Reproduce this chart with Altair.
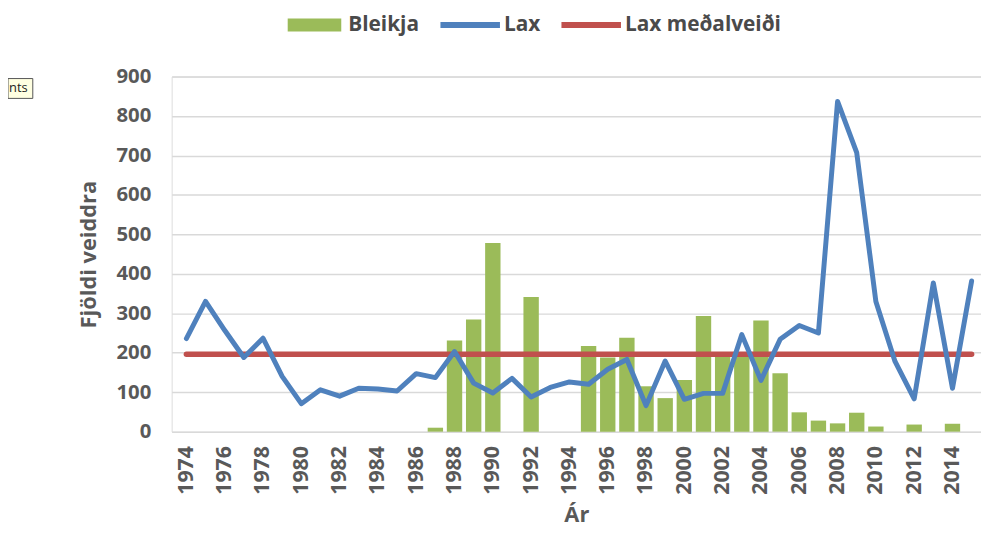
import altair as alt
import pandas as pd

years = list(range(1974, 2016))
lax = [236, 330, 257, 188, 237, 140, 71, 106, 90, 110, 108, 103, 147, 137,
       203, 123, 98, 135, 88, 112, 126, 120, 158, 183, 66, 179, 82, 97, 97,
       246, 130, 234, 269, 250, 837, 707, 330, 178, 83, 377, 110, 382]
bleikja_years = [1987, 1988, 1989, 1990, 1992, 1995, 1996, 1997, 1998, 1999,
                 2000, 2001, 2002, 2003, 2004, 2005, 2006, 2007, 2008, 2009,
                 2010, 2012, 2014]
bleikja = [10, 231, 284, 478, 341, 217, 188, 238, 115, 85, 131, 293, 190,
           195, 282, 148, 49, 28, 21, 48, 13, 18, 20]
lax_avg = 196
series_names = ["Bleikja", "Lax", "Lax meðalveiði"]
series_colors = ["#9BBB59", "#4F81BD", "#C0504D"]
x_ticks = list(range(1974, 2015, 2))
y_ticks = list(range(0, 901, 100))

df_bars = pd.DataFrame({"year": bleikja_years, "value": bleikja, "series": "Bleikja"})
df_lax = pd.DataFrame({"year": years, "value": lax, "series": "Lax"})
df_avg = pd.DataFrame({"year": years, "value": [lax_avg] * len(years), "series": "Lax meðalveiði"})

FONT = "Open Sans"
TXT = "#595959"

color_scale = alt.Scale(domain=series_names, range=series_colors)

x_enc = alt.X(
    "year:Q",
    scale=alt.Scale(domain=[1973.49, 2015.23], nice=False, zero=False),
    axis=alt.Axis(
        values=x_ticks, format="d", labelAngle=-90, labelFont=FONT,
        labelFontSize=21.5, labelFontWeight="bold", labelColor=TXT,
        labelPadding=14, labelFlush=False, labelOverlap=False,
        ticks=False, domain=False, grid=False,
        title="Ár", titleFont=FONT, titleFontSize=22, titleFontWeight="bold",
        titleColor=TXT, titlePadding=10,
    ),
)
y_enc = alt.Y(
    "value:Q",
    scale=alt.Scale(domain=[0, 900], nice=False),
    axis=alt.Axis(
        values=y_ticks, labelFont=FONT, labelFontSize=20.5, labelFontWeight="bold",
        labelColor=TXT, labelPadding=21, labelOverlap=False, labelFlush=False,
        ticks=False, domain=False,
        grid=True, gridColor="#D9D9D9", gridWidth=1.5,
        title="Fjöldi veiddra", titleFont=FONT, titleFontSize=22,
        titleFontWeight="bold", titleColor=TXT, titlePadding=16,
    ),
)

legend = alt.Legend(
    title=None, orient="none", direction="horizontal", legendX=129, legendY=-67,
    labelFont=FONT, labelFontSize=21, labelFontWeight="bold", labelColor="#4a4a4a",
    labelLimit=300,
    symbolSize=900, labelOffset=19, columnPadding=21,
    symbolType={"expr": "datum.value == 'Bleikja' ? 'M-1.8,-0.43H1.8V0.43H-1.8Z' : 'M-2,-0.2H2V0.2H-2Z'"},
    symbolFillColor={"expr": "scale('color', datum.value)"},
    symbolStrokeWidth=0, symbolOpacity=1,
)

color_enc = alt.Color("series:N", scale=color_scale, legend=legend)

bars = alt.Chart(df_bars).mark_bar(size=15.5).encode(x=x_enc, y=y_enc, color=color_enc)
avg_line = alt.Chart(df_avg).mark_line(strokeWidth=5.5, strokeCap="round").encode(
    x=x_enc, y=y_enc, color=color_enc)
lax_line = alt.Chart(df_lax).mark_line(strokeWidth=5, strokeJoin="round", strokeCap="round").encode(
    x=x_enc, y=y_enc, color=color_enc)

note_df = pd.DataFrame({"t": ["nts"]})
note_box = alt.Chart(note_df).mark_rect(fill="#FFFFE1", stroke="#555555", strokeWidth=1).encode(
    x=alt.value(-165), x2=alt.value(-140), y=alt.value(2), y2=alt.value(22))
note_text = alt.Chart(note_df).mark_text(align="left", baseline="middle", font=FONT, fontSize=13, color="#222222").encode(
    x=alt.value(-164), y=alt.value(12), text="t:N")

chart = alt.layer(bars, avg_line, lax_line, note_box, note_text).properties(
    width=816, height=358,
    autosize=alt.AutoSizeParams(type="none"),
    padding={"left": 165, "top": 67, "right": 0, "bottom": 95},
).configure_view(stroke=None).configure_axis(labelOverlap=False).configure(background="white")

chart.save("out.html", embed_options={"renderer": "svg", "actions": False})
